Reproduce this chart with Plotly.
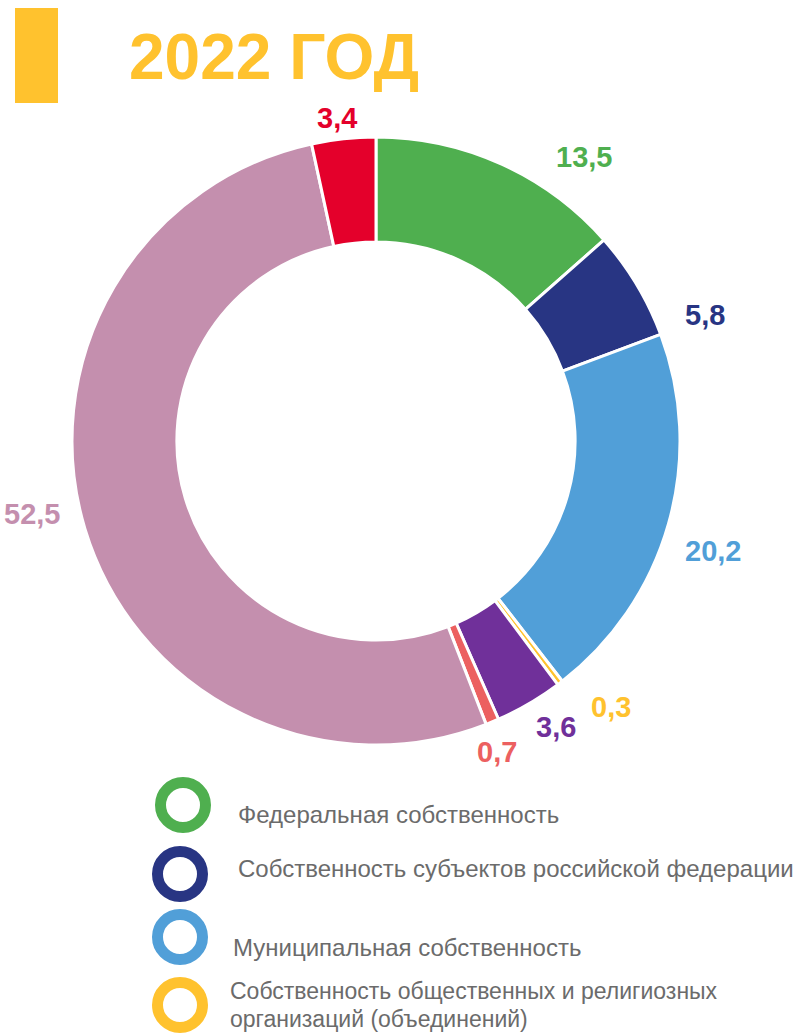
import plotly.graph_objects as go

W, H = 800, 1033

# ---- data ----
values = [13.5, 5.8, 20.2, 0.3, 3.6, 0.7, 52.5, 3.4]
value_labels = ["13,5", "5,8", "20,2", "0,3", "3,6", "0,7", "52,5", "3,4"]
colors = ["#4FAF4F", "#283583", "#519FD8", "#FFC22E", "#70309A", "#EC6060", "#C48FAE", "#E4002B"]
legend_names = [
    "Федеральная собственность",
    "Собственность субъектов российской федерации",
    "Муниципальная собственность",
    "Собственность общественных и религиозных",
    "организаций (объединений)",
]
legend_colors = colors[:4]
title_text = "2022 ГОД"

# ---- layout positions (pixels) ----
label_pos = [(584, 157), (705, 315), (713, 551), (611, 707), (556, 727), (497, 752), (32, 514), (337, 118)]
legend_ring_pos = [(183, 805), (180, 874), (180, 937), (180, 1005)]
# (x, y, yanchor)
legend_text_pos = [(237, 814, "middle"), (237, 868, "middle"), (232, 947, "middle"),
                   (229, 1005, "bottom"), (229, 1005, "top")]

FONT = "Liberation Sans, Arial, sans-serif"

def px(x):
    return x / W

def py(y):
    return 1 - y / H

cx, cy, R = 376, 441, 304
fig = go.Figure(go.Pie(
    values=values,
    sort=False,
    direction="clockwise",
    rotation=0,
    hole=0.655,
    marker=dict(colors=colors, line=dict(color="white", width=3)),
    textinfo="none",
    showlegend=False,
    domain=dict(x=[px(cx - R), px(cx + R)], y=[py(cy + R), py(cy - R)]),
))

annotations = []
for (x, y), t, c in zip(label_pos, value_labels, colors):
    annotations.append(dict(x=px(x), y=py(y), xref="paper", yref="paper", text=f"<b>{t}</b>",
                            showarrow=False, font=dict(family=FONT, size=29, color=c),
                            xanchor="center", yanchor="middle"))

annotations.append(dict(x=px(274), y=py(57), xref="paper", yref="paper", text=f"<b>{title_text}</b>",
                        showarrow=False, font=dict(family=FONT, size=64, color="#FFC22E"),
                        xanchor="center", yanchor="middle"))

shapes = [dict(type="rect", xref="paper", yref="paper", x0=px(15), x1=px(58), y0=py(103), y1=py(8),
               fillcolor="#FFC22E", line=dict(width=0))]

for (x, y), c in zip(legend_ring_pos, legend_colors):
    shapes.append(dict(type="circle", xref="paper", yref="paper", xsizemode="pixel", ysizemode="pixel",
                       xanchor=px(x), yanchor=py(y), x0=-22.5, x1=22.5, y0=-22.5, y1=22.5,
                       line=dict(color=c, width=11), fillcolor="rgba(0,0,0,0)"))

for (x, y, ya), t in zip(legend_text_pos, legend_names):
    annotations.append(dict(x=px(x), y=py(y), xref="paper", yref="paper", text=t, align="left",
                            showarrow=False, borderpad=0,
                            font=dict(family=FONT, size=23 if ya != "middle" else 24, color="#6B6B6B"),
                            xanchor="left", yanchor=ya))

fig.update_layout(
    width=W, height=H, autosize=False,
    margin=dict(l=0, r=0, t=0, b=0),
    paper_bgcolor="white", plot_bgcolor="white",
    annotations=annotations, shapes=shapes,
)

fig.write_html("out.html", config={"displayModeBar": False},
               post_script="document.body.style.margin='0';")
